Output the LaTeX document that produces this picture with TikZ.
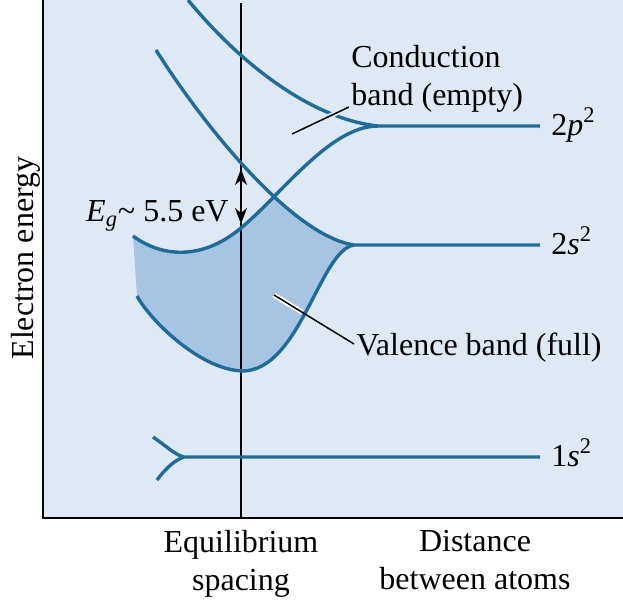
\documentclass[tikz,border=0pt]{standalone}
\usepackage{fontspec}
\setmainfont{Liberation Serif}
\usetikzlibrary{arrows.meta,calc}
\definecolor{bgblue}{RGB}{222,233,245}
\definecolor{bandfill}{RGB}{167,197,226}
\definecolor{curveblue}{RGB}{30,108,155}
\begin{document}
\begin{tikzpicture}[x=0.5pt,y=-0.5pt,
  band/.style={draw=curveblue,line width=1.7pt,line join=round},
  lbl/.style={inner sep=0pt,font=\fontsize{16}{19}\selectfont},
  leader/.style={draw=black,line width=0.75pt},
  halo/.style={line width=2.6pt},
  eqline/.style={draw=black,line width=0.75pt},
  axis/.style={draw=black,line width=1pt},
  gaparrow/.style={line width=0.75pt,arrows={Stealth[length=8pt,width=6pt,inset=2.5pt]-Stealth[length=8pt,width=6pt,inset=2.5pt]}}]
\useasboundingbox (0,0) rectangle (623,602);
\fill[bgblue] (43,0) rectangle (623,518);
% valence band fill
\begin{scope}
\clip (100,236) -- (133,236) .. controls (160,256) and (200,262) .. (241,228)
  .. controls (282,194) and (330,126) .. (378,126) -- (420,126) -- (420,420) -- (100,420) -- cycle;
\clip (156,50) .. controls (200,120) and (290,235) .. (354,245) -- (420,245) -- (420,420) -- (100,420) -- (100,50) -- cycle;
\fill[bandfill] (354,245) .. controls (320,250) and (300,370) .. (243,371)
  .. controls (200,370) and (150,320) .. (137,296) -- (133,236) -- (133,100) -- (354,100) -- cycle;
\end{scope}
% equilibrium spacing line
\coordinate (eqtop) at (241,3);
\coordinate (eqbot) at (241,518);
\draw[eqline] (eqtop) -- (eqbot);
% bands
\coordinate (p2) at (378,126);
\coordinate (s2) at (354,245);
\coordinate (s1) at (184,457);
\draw[band] (188,0) .. controls (250,75) and (320,120) .. (p2);
\draw[band] (133,236) .. controls (160,256) and (200,262) .. (241,228)
  .. controls (282,194) and (330,126) .. (p2) -- (540,126);
\draw[band] (156,50) .. controls (200,120) and (290,235) .. (s2) -- (540,245);
\draw[band] (s2) .. controls (320,250) and (300,370) .. (243,371)
  .. controls (200,370) and (150,320) .. (137,296);
\draw[band] (153,437) .. controls (165,445) and (175,455) .. (s1) -- (540,457);
\draw[band] (157,480) .. controls (166,468) and (175,460) .. (s1);
% axes
\draw[axis] (43,0) -- (43,518) -- (623,518);
% gap arrow
\coordinate (egtop) at (241,169);
\coordinate (egbot) at (241,224);
\draw[gaparrow] (egtop) -- (egbot);
\node[lbl,anchor=base east] (eglabel) at (229,221) {\textit{E}\textsubscript{\textit{g}}\textasciitilde\ 5.5 eV};
% labels
\node[lbl,anchor=base west] (lbl2p) at (551,135) {2\textit{p}\textsuperscript{2}};
\node[lbl,anchor=base west] (lbl2s) at (551,254) {2\textit{s}\textsuperscript{2}};
\node[lbl,anchor=base west] (lbl1s) at (551,466) {1\textit{s}\textsuperscript{2}};
\node[lbl,anchor=north west,align=left] (condlabel) at (351,45) {Conduction\\band (empty)};
\node[lbl,anchor=base west] (vallabel) at (356,355) {Valence band (full)};
\node[lbl,anchor=base,rotate=90] (ylabel) at (33,258) {Electron energy};
\node[lbl,anchor=north,align=center] (xlab1) at (241,530) {Equilibrium\\spacing};
\node[lbl,anchor=north,align=center] (xlab2) at (475,530) {Distance\\between atoms};
% leaders
\coordinate (cstart) at (292,134);
\coordinate (cend) at (349,107);
\draw[halo,bgblue] (cstart) -- (cend);
\draw[leader] (cstart) -- (cend);
\coordinate (vstart) at (274,295);
\coordinate (vend) at (354,344);
\coordinate (vmid) at ($(vstart)!0.35!(vend)$);
\draw[halo,white] (vstart) -- (vmid);
\draw[leader] (vstart) -- (vend);
\end{tikzpicture}
\end{document}
